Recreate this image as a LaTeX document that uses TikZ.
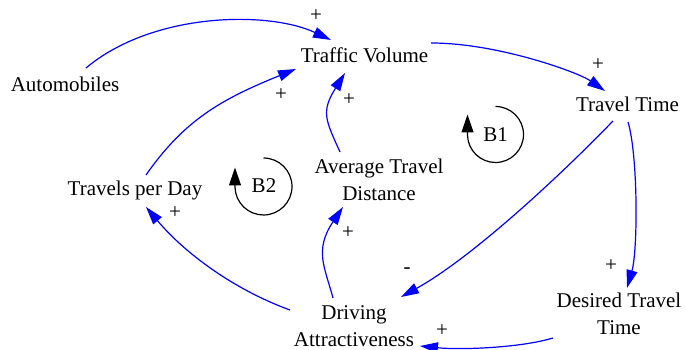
\documentclass[tikz,border=0pt]{standalone}
\usepackage{fontspec}
\setmainfont{Liberation Serif}
\usetikzlibrary{arrows.meta}
\begin{document}
\begin{tikzpicture}[x=1pt,y=1pt,
  lbl/.style={inner sep=0pt, font=\fontsize{21}{27}\selectfont},
  sign/.style={inner sep=0pt, font=\fontsize{21}{27}\selectfont},
  link/.style={draw=blue, line width=1.2pt, -{Triangle[length=18pt,width=11pt]}},
  loopline/.style={draw=black, line width=1.2pt, -{Triangle[length=18pt,width=12pt]}}]
\useasboundingbox (0,0) rectangle (686,350);
% variables
\node[lbl, anchor=base] (auto) at (65,258) {Automobiles};
\node[lbl, anchor=base] (tv) at (364.5,287) {Traffic Volume};
\node[lbl, anchor=base] (tt) at (627.5,238) {Travel Time};
\node[lbl, anchor=base] (tpd) at (135,154) {Travels per Day};
\node[lbl, align=center] (atd) at (379,170.6) {Average Travel\\Distance};
\node[lbl, align=center] (da) at (354,23.7) {Driving\\Attractiveness};
\node[lbl, align=center] (dtt) at (619,36.6) {Desired Travel\\Time};
% loop labels
\node[lbl] (b1) at (495.5,215.5) {B1};
\node[lbl] (b2) at (264,164) {B2};
% links
\draw[link] ([shift={(21,24)}]auto.base) .. controls (152.7,338) and (268.3,339.3) .. ([shift={(-33.5,23)}]tv.base);
\draw[link] ([shift={(11,21)}]tpd.base) .. controls (184.1,229.5) and (220.5,250.5) .. ([shift={(-68.5,-6)}]tv.base);
\draw[link] ([shift={(-39,27.4)}]atd.center) .. controls (325.5,230) and (320.8,238.3) .. ([shift={(-19.5,-10)}]tv.base);
\draw[link] ([shift={(66.5,20)}]tv.base) .. controls (497.6,307) and (578.4,277.6) .. ([shift={(-22.5,21)}]tt.base);
\draw[link] ([shift={(-14.5,-9)}]tt.base) .. controls (557.4,171.5) and (471,91.8) .. ([shift={(47,29.3)}]da.center);
\draw[link] ([shift={(0.5,-10)}]tt.base) .. controls (638,195) and (638,100) .. ([shift={(8,25.4)}]dtt.center);
\draw[link] ([shift={(-66,-24.6)}]dtt.center) .. controls (520,2) and (460,0) .. ([shift={(66,-19.7)}]da.center);
\draw[link] ([shift={(-64,16.3)}]da.center) .. controls (233.6,60.5) and (184.6,97) .. ([shift={(11,-11)}]tpd.base);
\draw[link] ([shift={(-21,28.3)}]da.center) .. controls (324.7,83) and (314,100) .. ([shift={(-36,-27.6)}]atd.center);
% polarity signs
\node[sign] (s1) at (316,334) {+};
\node[sign] (s2) at (281,255) {+};
\node[sign] (s3) at (349,250) {+};
\node[sign] (s4) at (598,285) {+};
\node[sign] (s5) at (407,79) {-};
\node[sign] (s6) at (611,84) {+};
\node[sign] (s7) at (442,19) {+};
\node[sign] (s8) at (175,137) {+};
\node[sign] (s9) at (348,117) {+};
% loop symbols
\draw[loopline] ([shift={(90:28)}]b1.center) arc[start angle=90, end angle=-178, radius=28] -- ([shift={(-28,20)}]b1.center);
\draw[loopline] ([shift={(-0.5,-0.5)}]b2.center) ++(90:28.5) arc[start angle=90, end angle=-178, radius=28.5] -- ([shift={(-29,18.5)}]b2.center);
\end{tikzpicture}
\end{document}
